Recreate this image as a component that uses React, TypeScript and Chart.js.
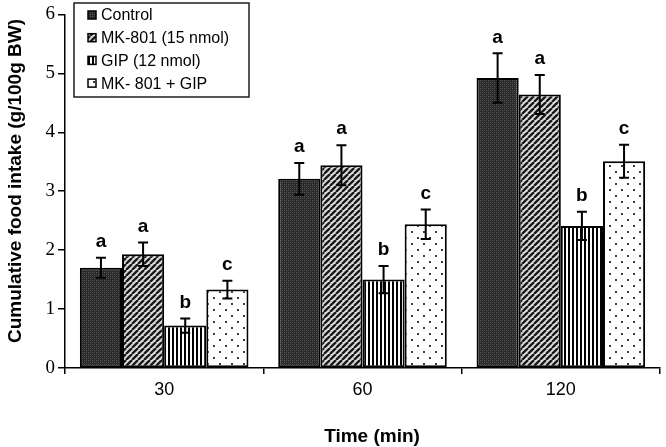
import { useEffect, useRef } from 'react';
import { Chart, registerables } from 'chart.js';

Chart.register(...registerables);

// Time after injection (min)
const timePoints = ['30', '60', '120'];
const seriesNames = ['Control', 'MK-801 (15 nmol)', 'GIP (12 nmol)', 'MK- 801 + GIP'];

// Cumulative food intake (g/100g BW), mean
const controlIntake = [1.70, 3.21, 4.92];
const mk801Intake = [1.93, 3.44, 4.64];
const gipIntake = [0.72, 1.50, 2.41];
const comboIntake = [1.33, 2.44, 3.51];

// Standard error of the mean
const controlSem = [0.17, 0.27, 0.42];
const mk801Sem = [0.20, 0.34, 0.33];
const gipSem = [0.12, 0.23, 0.24];
const comboSem = [0.15, 0.25, 0.28];

// Significance letters
const controlLetters = ['a', 'a', 'a'];
const mk801Letters = ['a', 'a', 'a'];
const gipLetters = ['b', 'b', 'b'];
const comboLetters = ['c', 'c', 'c'];

const yMin = 0;
const yMax = 6;
const yStep = 1;

const xTitle = 'Time (min)';
const yTitle = 'Cumulative food intake (g/100g BW)';

const SANS = '"Liberation Sans", Arial, sans-serif';
const SERIF = '"Liberation Serif", "Times New Roman", serif';

function makeTile(w: number, h: number, draw: (c: CanvasRenderingContext2D) => void) {
  const cv = document.createElement('canvas');
  cv.width = w;
  cv.height = h;
  const c = cv.getContext('2d')!;
  draw(c);
  return cv;
}

function buildPatterns(ctx: CanvasRenderingContext2D) {
  const dark = makeTile(4, 4, (c) => {
    c.fillStyle = '#2a2a2a';
    c.fillRect(0, 0, 4, 4);
    c.fillStyle = '#5e5e5e';
    c.fillRect(0, 0, 1, 1);
    c.fillRect(2, 2, 1, 1);
    c.fillStyle = '#474747';
    c.fillRect(2, 0, 1, 1);
    c.fillRect(0, 2, 1, 1);
  });
  const diag = makeTile(6, 6, (c) => {
    c.fillStyle = '#e0e0e0';
    c.fillRect(0, 0, 6, 6);
    c.strokeStyle = '#1a1a1a';
    c.lineWidth = 2.4;
    for (const k of [-6, 0, 6]) {
      c.beginPath();
      c.moveTo(k, 6);
      c.lineTo(k + 6, 0);
      c.stroke();
    }
  });
  const vert = makeTile(4, 4, (c) => {
    c.fillStyle = '#ffffff';
    c.fillRect(0, 0, 4, 4);
    c.fillStyle = '#000000';
    c.fillRect(0, 0, 2, 4);
  });
  const dots = makeTile(12, 12, (c) => {
    c.fillStyle = '#ffffff';
    c.fillRect(0, 0, 12, 12);
    c.fillStyle = '#3a3a3a';
    c.fillRect(3, 3, 2, 2);
    c.fillRect(9, 9, 2, 2);
  });
  return [dark, diag, vert, dots].map((t) => ctx.createPattern(t, 'repeat') as CanvasPattern);
}

const semBySeries = [controlSem, mk801Sem, gipSem, comboSem];
const lettersBySeries = [controlLetters, mk801Letters, gipLetters, comboLetters];

const errorBarPlugin = {
  id: 'errorBars',
  afterDatasetsDraw(chart: any) {
    const { ctx } = chart;
    const y = chart.scales.y;
    ctx.save();
    chart.data.datasets.forEach((ds: any, di: number) => {
      const meta = chart.getDatasetMeta(di);
      meta.data.forEach((bar: any, i: number) => {
        const v = ds.data[i];
        const e = semBySeries[di][i];
        const x = bar.x;
        const top = y.getPixelForValue(v + e);
        const bot = y.getPixelForValue(v - e);
        ctx.strokeStyle = '#000';
        ctx.lineWidth = 2;
        ctx.beginPath();
        ctx.moveTo(x, top);
        ctx.lineTo(x, bot);
        ctx.moveTo(x - 5, top);
        ctx.lineTo(x + 5, top);
        ctx.moveTo(x - 5, bot);
        ctx.lineTo(x + 5, bot);
        ctx.stroke();
        ctx.fillStyle = '#000';
        ctx.font = `bold 19px ${SANS}`;
        ctx.textAlign = 'center';
        ctx.textBaseline = 'middle';
        ctx.fillText(lettersBySeries[di][i], x, top - 16);
      });
    });
    ctx.restore();
  },
};

// Axis titles, placed by hand
const axisTitlePlugin = {
  id: 'axisTitles',
  afterDraw(chart: any) {
    const { ctx } = chart;
    ctx.save();
    ctx.fillStyle = '#000';
    ctx.font = `bold 19px ${SANS}`;
    ctx.textAlign = 'center';
    ctx.textBaseline = 'middle';
    ctx.fillText(xTitle, 372, 437);
    ctx.translate(16, 181);
    ctx.rotate(-Math.PI / 2);
    ctx.fillText(yTitle, 0, 0);
    ctx.restore();
  },
};

const boxLegendPlugin = {
  id: 'boxLegend',
  afterDraw(chart: any) {
    const { ctx } = chart;
    ctx.save();
    ctx.strokeStyle = '#1e1e1e';
    ctx.lineWidth = 1.5;
    ctx.fillStyle = '#fff';
    ctx.fillRect(74, 3, 175, 94);
    ctx.strokeRect(74, 3, 175, 94);
    chart.data.datasets.forEach((ds: any, i: number) => {
      const cy = 15 + i * 22.7;
      ctx.fillStyle = ds.backgroundColor;
      ctx.fillRect(88, cy - 4, 8, 8);
      ctx.strokeStyle = '#000';
      ctx.lineWidth = 1.5;
      ctx.strokeRect(88, cy - 4, 8, 8);
      ctx.fillStyle = '#000';
      ctx.font = `16px ${SANS}`;
      ctx.textAlign = 'left';
      ctx.textBaseline = 'middle';
      ctx.fillText(ds.label, 101, cy + 1);
    });
    ctx.restore();
  },
};

export default function App() {
  const canvasRef = useRef<HTMLCanvasElement>(null);

  useEffect(() => {
    document.body.style.margin = '0';
    const canvas = canvasRef.current!;
    const ctx = canvas.getContext('2d')!;
    const [pDark, pDiag, pVert, pDots] = buildPatterns(ctx);
    const series = [controlIntake, mk801Intake, gipIntake, comboIntake];
    const fills = [pDark, pDiag, pVert, pDots];

    const chart = new Chart(canvas, {
      type: 'bar',
      data: {
        labels: timePoints,
        datasets: series.map((d, i) => ({
          label: seriesNames[i],
          data: d,
          backgroundColor: fills[i] as any,
          borderColor: '#000',
          borderWidth: 2,
          borderSkipped: false,
          categoryPercentage: 0.85,
          barPercentage: 1,
        })),
      },
      options: {
        responsive: false,
        animation: false,
        layout: { padding: { top: 11, right: 6, left: 0, bottom: 0 } },
        plugins: {
          legend: { display: false },
          tooltip: { enabled: false },
        },
        scales: {
          x: {
            offset: true,
            grid: {
              display: true,
              offset: true,
              drawOnChartArea: false,
              tickLength: 6,
              color: '#000',
              lineWidth: 1.5,
            },
            border: { display: true, color: '#000', width: 1.5 },
            ticks: {
              color: '#000',
              font: { family: SANS, size: 18 },
              padding: 5,
            },
            afterFit: (scale: any) => {
              scale.height = 79;
            },
          },
          y: {
            min: yMin,
            max: yMax,
            ticks: {
              stepSize: yStep,
              color: '#000',
              font: { family: SERIF, size: 19 },
              padding: 3,
            },
            grid: {
              display: true,
              drawOnChartArea: false,
              tickLength: 7,
              color: '#000',
              lineWidth: 1.5,
            },
            border: { display: true, color: '#000', width: 1.5 },
            afterFit: (scale: any) => {
              scale.width = 65;
            },
          },
        },
      },
      plugins: [errorBarPlugin, axisTitlePlugin, boxLegendPlugin],
    });
    return () => chart.destroy();
  }, []);

  return <canvas ref={canvasRef} width={666} height={447} style={{ display: 'block' }} />;
}
